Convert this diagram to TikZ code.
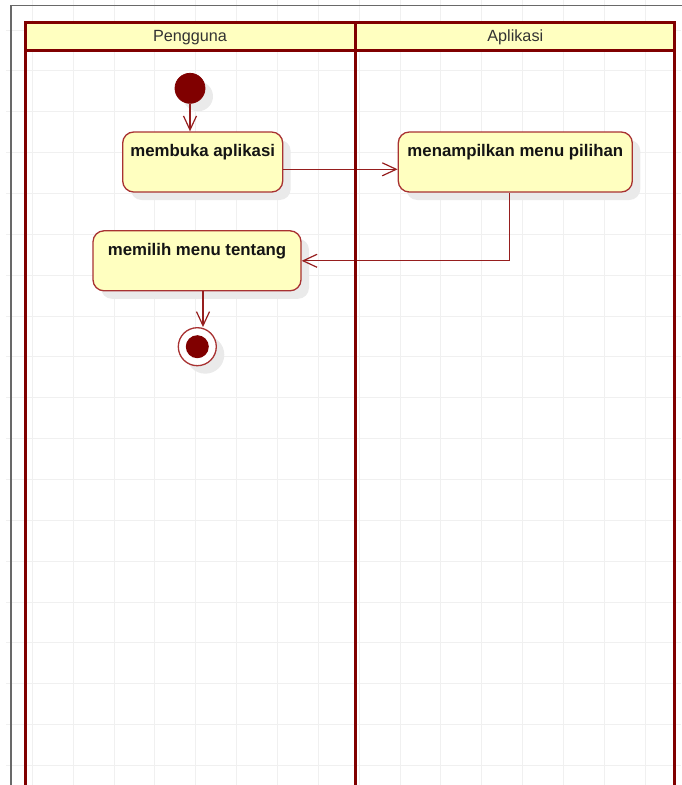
\documentclass[tikz,border=0pt]{standalone}
\usepackage{fontspec}
\setmainfont{Liberation Sans}
\usetikzlibrary{arrows.meta,calc,shadows}

\definecolor{laneRed}{RGB}{128,0,0}
\definecolor{boxRed}{RGB}{168,50,50}
\definecolor{flowRed}{RGB}{150,30,30}
\definecolor{noteYellow}{RGB}{255,255,192}
\definecolor{gridGray}{RGB}{240,240,240}
\definecolor{shadowGray}{RGB}{234,234,234}
\definecolor{frameGray}{RGB}{105,105,105}

\tikzset{
  gridline/.style={draw=gridGray, line width=1pt},
  lanebox/.style={draw=laneRed, line width=3pt},
  lanehead/.style={fill=noteYellow},
  lanelabel/.style={anchor=base, inner sep=0pt, text=black!80,
    font=\fontsize{16.2}{19}\selectfont},
  boxshadow/.style={drop shadow={shadow xshift=8pt, shadow yshift=-8pt,
    fill=shadowGray, opacity=1}},
  activity/.style={draw=boxRed, line width=1.3pt, fill=noteYellow,
    rounded corners=11pt, inner xsep=0pt, inner ysep=0pt,
    text height=24.7pt, text depth=35.3pt, text=black!92,
    font=\fontsize{16.8}{20}\selectfont\bfseries, boxshadow},
  startnode/.style={circle, draw=laneRed, fill=laneRed, line width=0.8pt,
    minimum size=30pt, inner sep=0pt, boxshadow},
  endnode/.style={circle, draw=boxRed, fill=white, line width=1.3pt,
    minimum size=38pt, inner sep=0pt, boxshadow},
  flow/.style={draw=flowRed, line width=1.2pt,
    -{Straight Barb[length=14pt,width=13pt,line width=1.2pt]}},
}

\begin{document}
\begin{tikzpicture}[x=1pt,y=-1pt]
  \useasboundingbox (0,0) rectangle (681,785);

  % background grid
  \foreach \k in {0,...,15}
    \draw[gridline] ({32.3+40.86*\k},0) -- ({32.3+40.86*\k},785);
  \foreach \k in {0,...,18}
    \draw[gridline] (6,{30+40.86*\k}) -- (681,{30+40.86*\k});

  % outer frame
  \draw[frameGray, line width=1.2pt] (11,790) -- (11,5.5) -- (690,5.5);

  % lane headers
  \fill[lanehead] (25,22) rectangle (355,50);
  \fill[lanehead] (355,22) rectangle (674.5,50);
  \node[lanelabel] (hUser) at (190,41.7) {Pengguna};
  \node[lanelabel] (hApp) at (515.3,41.7) {Aplikasi};

  % activities
  \node[startnode] (st) at (190,88.3) {};
  \node[activity, minimum width=160pt] (mb) at (202.7,162) {membuka aplikasi};
  \node[activity, minimum width=234pt] (mp) at (515.3,162) {menampilkan menu pilihan};
  \node[activity, minimum width=208pt] (mm) at (197,260.8) {memilih menu tentang};
  \node[endnode] (en) at (197.3,346.7) {};
  \fill[laneRed] (en.center) circle (11.5pt);

  % control flow
  \coordinate (mbOut) at ($(mb.east)+(0,7.3)$);
  \coordinate (mpOut) at ($(mp.south)+(-6,0)$);
  \coordinate (mmOut) at ($(mm.south)+(6,0)$);
  \draw[flow] (st.south) -- (st.south |- mb.north);
  \draw[flow] (mbOut) -- (mbOut -| mp.west);
  \draw[flow] (mpOut) |- (mm.east);
  \draw[flow] (mmOut) -- (mmOut |- en.north);

  % lane borders
  \draw[lanebox] (25,800) -- (25,22) -- (674.5,22) -- (674.5,800);
  \draw[lanebox] (355,22) -- (355,800);
  \draw[lanebox] (25,50) -- (674.5,50);
\end{tikzpicture}
\end{document}
